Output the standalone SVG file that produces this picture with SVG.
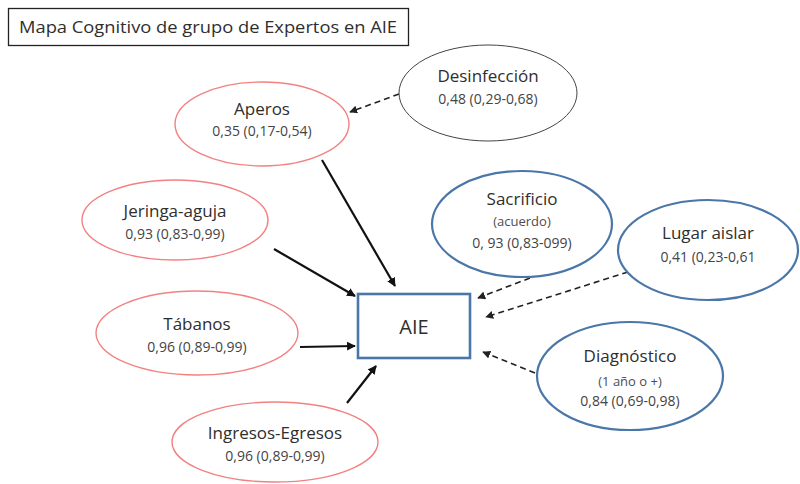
<svg xmlns="http://www.w3.org/2000/svg" width="800" height="484" viewBox="0 0 800 484">
<style>
.t{font-family:"Open Sans","Liberation Sans",sans-serif;fill:#2e2e2e;text-anchor:middle}
.n{font-size:17px}
.v{font-size:14px;fill:#444}
.s{font-size:13px;fill:#4e4e4e}
.red{fill:#fff;stroke:#f28282;stroke-width:1.4}
.blue{fill:#fff;stroke:#4a76a8;stroke-width:2.2}
.gray{fill:#fff;stroke:#444;stroke-width:1}
.sol{stroke:#111;stroke-width:2.2;fill:none;marker-end:url(#ah)}
.dash{stroke:#222;stroke-width:1.6;stroke-dasharray:6,4;fill:none;marker-end:url(#ahs)}
</style>
<defs>
<marker id="ah" viewBox="0 0 10 10" refX="9" refY="5" markerWidth="4" markerHeight="4" orient="auto" markerUnits="strokeWidth"><path d="M0,0 L10,5 L0,10 z" fill="#111"/></marker>
<marker id="ahs" viewBox="0 0 10 10" refX="9" refY="5" markerWidth="5" markerHeight="5" orient="auto" markerUnits="strokeWidth"><path d="M0,0 L10,5 L0,10 z" fill="#222"/></marker>
</defs>
<rect width="800" height="484" fill="#fff"/>
<g id="title">
<rect x="8.5" y="8.5" width="400" height="37" fill="#fff" stroke="#222" stroke-width="1.3"/>
<text class="t" x="208" y="33" font-size="16" textLength="378" lengthAdjust="spacingAndGlyphs">Mapa Cognitivo de grupo de Expertos en AIE</text>
</g>
<g id="connectors">
<line class="dash" x1="399" y1="94" x2="350" y2="112"/>
<line class="sol" x1="322" y1="160" x2="395" y2="286"/>
<line class="sol" x1="274" y1="249" x2="355" y2="296"/>
<line class="sol" x1="300" y1="347" x2="355" y2="346"/>
<line class="sol" x1="347" y1="403" x2="376" y2="366"/>
<line class="dash" x1="530" y1="278" x2="478" y2="298"/>
<line class="dash" x1="628" y1="272" x2="486" y2="317"/>
<line class="dash" x1="535" y1="373" x2="483" y2="352"/>
</g>
<g id="desinfeccion">
<ellipse class="gray" cx="488" cy="93" rx="89" ry="48"/>
<text class="t n" x="488" y="82">Desinfección</text>
<text class="t v" x="488" y="104">0,48 (0,29-0,68)</text>
</g>
<g id="aperos">
<ellipse class="red" cx="262" cy="124" rx="87" ry="42"/>
<text class="t n" x="262" y="115">Aperos</text>
<text class="t v" x="262" y="136">0,35 (0,17-0,54)</text>
</g>
<g id="jeringa">
<ellipse class="red" cx="175" cy="220" rx="93" ry="40"/>
<text class="t n" x="175" y="217">Jeringa-aguja</text>
<text class="t v" x="175" y="239">0,93 (0,83-0,99)</text>
</g>
<g id="tabanos">
<ellipse class="red" cx="197" cy="333" rx="101" ry="42"/>
<text class="t n" x="197" y="330">Tábanos</text>
<text class="t v" x="197" y="352">0,96 (0,89-0,99)</text>
</g>
<g id="ingresos">
<ellipse class="red" cx="275" cy="442" rx="103" ry="40"/>
<text class="t n" x="275" y="439">Ingresos-Egresos</text>
<text class="t v" x="275" y="461">0,96 (0,89-0,99)</text>
</g>
<g id="aie">
<rect x="358" y="294" width="112" height="64" fill="#fff" stroke="#4a76a8" stroke-width="2.6"/>
<text class="t" x="414" y="334" font-size="20">AIE</text>
</g>
<g id="sacrificio">
<ellipse class="blue" cx="522" cy="224" rx="90" ry="53"/>
<text class="t n" x="522" y="205">Sacrificio</text>
<text class="t s" x="522" y="226">(acuerdo)</text>
<text class="t v" x="522" y="248">0, 93 (0,83-099)</text>
</g>
<g id="lugar">
<ellipse class="blue" cx="708" cy="250" rx="90" ry="50"/>
<text class="t n" x="708" y="239">Lugar aislar</text>
<text class="t v" x="708" y="262">0,41 (0,23-0,61</text>
</g>
<g id="diagnostico">
<ellipse class="blue" cx="630" cy="376" rx="93" ry="54"/>
<text class="t n" x="630" y="362">Diagnóstico</text>
<text class="t s" x="630" y="386">(1 año o +)</text>
<text class="t v" x="630" y="406">0,84 (0,69-0,98)</text>
</g>
</svg>
